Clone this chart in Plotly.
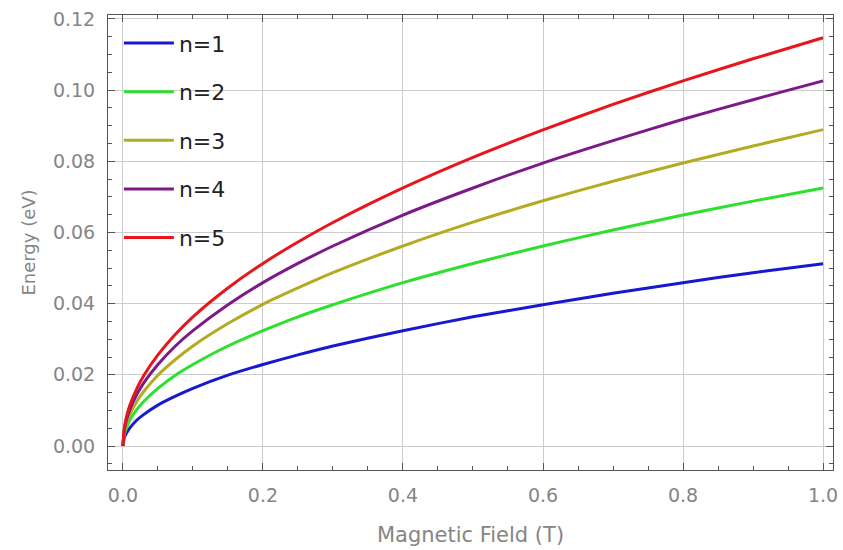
import plotly.graph_objects as go

# Magnetic field samples (T)
field = [0, 0.002, 0.005, 0.01, 0.02, 0.03, 0.05, 0.075, 0.1, 0.15, 0.2, 0.25, 0.3, 0.4, 0.5, 0.6, 0.7, 0.8, 0.9, 1.0]

# Energies (eV)
n1 = [0, 0.0023, 0.0036, 0.0051, 0.0073, 0.0089, 0.0115, 0.0140, 0.0162, 0.0199, 0.0229, 0.0256, 0.0281, 0.0324, 0.0363, 0.0397, 0.0429, 0.0459, 0.0487, 0.0512]
n2 = [0, 0.0032, 0.0051, 0.0073, 0.0103, 0.0126, 0.0162, 0.0199, 0.0229, 0.0281, 0.0324, 0.0363, 0.0397, 0.0459, 0.0513, 0.0562, 0.0607, 0.0649, 0.0688, 0.0725]
n3 = [0, 0.0040, 0.0063, 0.0089, 0.0126, 0.0154, 0.0199, 0.0243, 0.0281, 0.0344, 0.0398, 0.0444, 0.0487, 0.0562, 0.0629, 0.0689, 0.0744, 0.0795, 0.0843, 0.0889]
n4 = [0, 0.0046, 0.0073, 0.0103, 0.0145, 0.0178, 0.0229, 0.0281, 0.0324, 0.0397, 0.0459, 0.0513, 0.0562, 0.0649, 0.0725, 0.0795, 0.0858, 0.0918, 0.0973, 0.1026]
n5 = [0, 0.0051, 0.0081, 0.0115, 0.0162, 0.0199, 0.0256, 0.0314, 0.0363, 0.0444, 0.0513, 0.0573, 0.0628, 0.0725, 0.0811, 0.0888, 0.0960, 0.1026, 0.1088, 0.1147]

labels = ["n=1", "n=2", "n=3", "n=4", "n=5"]
series = [n1, n2, n3, n4, n5]
colors = ["#1818d0", "#2ee02e", "#b3ab22", "#7c1a88", "#e8161c"]

x_ticks = [0.0, 0.2, 0.4, 0.6, 0.8, 1.0]
y_ticks = [0.00, 0.02, 0.04, 0.06, 0.08, 0.10, 0.12]

FONT = "DejaVu Sans, Verdana, sans-serif"

fig = go.Figure()
for lab, ys, c in zip(labels, series, colors):
    fig.add_trace(go.Scatter(
        x=field, y=ys, mode="lines", name=lab, legendgroup=lab,
        line=dict(color=c, width=3, shape="spline", smoothing=0.6),
    ))

axis_common = dict(
    showline=True, linecolor="#555555", linewidth=1, mirror="ticks",
    ticks="inside", ticklen=7, tickcolor="#555555", tickwidth=1,
    showgrid=True, gridcolor="#cccccc", gridwidth=1, zeroline=False,
    tickfont=dict(family=FONT, size=19, color="#858585"),
    ticklabeloverflow="allow",
)

fig.update_layout(
    width=843, height=550,
    margin=dict(l=108, r=5, t=15, b=80),
    paper_bgcolor="white", plot_bgcolor="white",
    font=dict(family=FONT),
    xaxis=dict(
        range=[-0.0213, 1.0142], tickvals=x_ticks, ticktext=[f"{v:.1f}" for v in x_ticks],
        minor=dict(dtick=0.05, ticks="inside", ticklen=4, tickcolor="#555555", showgrid=False),
        ticklabelstandoff=8,
        title=dict(text="Magnetic Field (T)", font=dict(family=FONT, size=21, color="#858585"), standoff=22),
        **axis_common,
    ),
    yaxis=dict(
        range=[-0.00674, 0.1211], tickvals=y_ticks, ticktext=[f"{v:.2f}" for v in y_ticks],
        minor=dict(dtick=0.005, ticks="inside", ticklen=4, tickcolor="#555555", showgrid=False),
        ticklabelstandoff=8,
        title=dict(text="Energy (eV)", font=dict(family=FONT, size=18, color="#858585"), standoff=12),
        **axis_common,
    ),
    legend=dict(
        x=0.015, y=0.984, xanchor="left", yanchor="top",
        bgcolor="rgba(0,0,0,0)", borderwidth=0,
        font=dict(size=22, color="#222222", family=FONT),
        tracegroupgap=17, itemwidth=50,
    ),
)

fig.write_html(
    "out.html",
    config={"displayModeBar": False},
    post_script="document.body.style.margin='0';document.body.style.overflow='hidden';",
)
